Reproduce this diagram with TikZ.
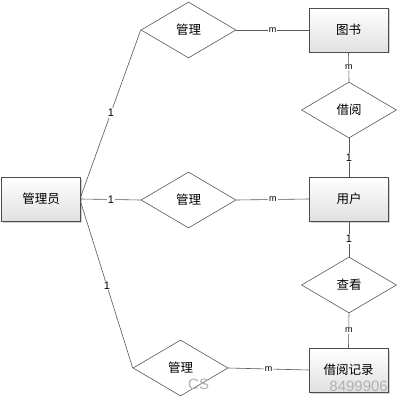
\documentclass[tikz,border=0pt]{standalone}
\usepackage{fontspec}
\setsansfont{Liberation Sans}
\newfontfamily\cjk{Noto Sans CJK SC}
\usetikzlibrary{shapes.geometric,shadows}
\begin{document}
\begin{tikzpicture}[x=1pt,y=-1pt,
  entity/.style={draw=black!70, line width=0.6pt, rectangle, minimum width=79pt, minimum height=44pt,
    top color=white, bottom color=black!12, drop shadow={shadow xshift=1.5pt, shadow yshift=-1.5pt, fill=black!35},
    font=\cjk\fontsize{12.5}{14}\selectfont, inner sep=0pt},
  rel/.style={draw=black!65, line width=0.6pt, diamond, minimum width=95pt, minimum height=56pt, aspect=1.7,
    inner sep=0pt, fill=white, font=\cjk\fontsize{12.5}{14}\selectfont},
  conn/.style={draw=black!65, line width=0.6pt},
  card/.style={fill=white, inner sep=1pt, font=\sffamily\fontsize{11}{12}\selectfont},
  cardm/.style={fill=white, inner sep=1pt, font=\sffamily\fontsize{9}{10}\selectfont},
  wm/.style={text=black!30, font=\sffamily\fontsize{15}{16}\selectfont, inner sep=0pt}]
\useasboundingbox (0,0) rectangle (400,401);
\fill[white] (0,0) rectangle (400,401);

\node[entity] (mgr) at (41,199) {管理员};
\node[entity] (book) at (348.5,30) {图书};
\node[entity] (user) at (349,199) {用户};
\node[entity] (rec) at (348.5,370) {借阅记录};

\node[rel] (r1) at (188.5,30) {管理};
\node[rel] (r2) at (188.5,200) {管理};
\node[rel] (r3) at (180.5,368) {管理};
\node[rel] (borrow) at (349,110) {借阅};
\node[rel] (view) at (349,285) {查看};

\coordinate (m1) at (81,196);
\coordinate (m2) at (81,199);
\coordinate (m3) at (81,203);

\draw[conn] (m1) -- node[card] {1} (r1.west);
\draw[conn] (m2) -- node[card] {1} (r2.west);
\draw[conn] (m3) -- node[card] {1} (r3.west);
\draw[conn] (r1.east) -- node[cardm] {m} (book.west);
\draw[conn] (r2.east) -- node[cardm] {m} (user.west);
\draw[conn] (r3.east) -- node[cardm] {m} (rec.west);
\draw[conn] (book.south) -- node[cardm] {m} (borrow.north);
\draw[conn] (borrow.south) -- node[card] {1} (user.north);
\draw[conn] (user.south) -- node[card] {1} (view.north);
\draw[conn] (view.south) -- node[cardm] {m} (rec.north);

\node[wm, anchor=west] (wm1) at (188,384) {CS};
\node[wm, anchor=east] (wm2) at (388,386) {8499906};
\end{tikzpicture}
\end{document}
